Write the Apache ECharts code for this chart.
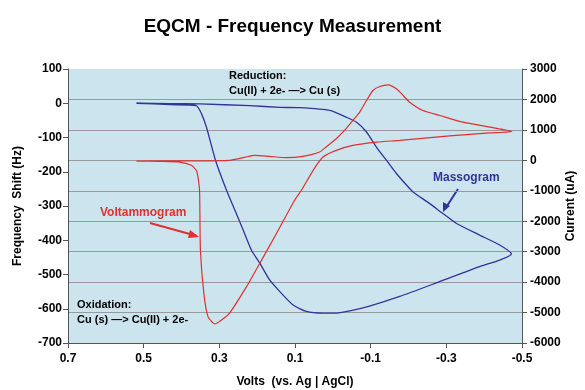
<!DOCTYPE html>
<html>
<head>
<meta charset="utf-8">
<script src="https://cdn.jsdelivr.net/npm/echarts@6/dist/echarts.min.js"></script>
<style>html,body{margin:0;padding:0;background:#fff}#c{width:585px;height:390px}</style>
</head>
<body>
<div id="c"></div>
<script>
// Massogram (frequency shift, Hz) vs volts
var massVolts = [0.519, 0.431, 0.352, 0.220, 0.140, 0.088, 0.008, -0.036, -0.062, -0.089, -0.115, -0.142, -0.168, -0.203, -0.212, -0.256, -0.291, -0.327, -0.388, -0.441, -0.472,
  -0.441, -0.388, -0.282, -0.177, -0.097, -0.045, -0.005, 0.027, 0.070, 0.105, 0.140, 0.167, 0.193, 0.215, 0.237, 0.259, 0.281, 0.310, 0.334, 0.347, 0.361, 0.431, 0.519];
var massShift = [0, -1, -2, -7, -12, -13, -21, -41, -55, -84, -128, -167, -205, -249, -259, -293, -322, -351, -385, -414, -440,
  -458, -477, -521, -564, -592, -606, -613, -613, -608, -589, -550, -516, -467, -429, -370, -312, -254, -167, -70, -31, -7, -4, 0];
// Voltammogram (current, uA) vs volts
var voltVolts = [0.519, 0.378, 0.273, 0.233, 0.206, 0.167, 0.123, 0.079, 0.035, 0.018, -0.009, -0.031, -0.053, -0.071, -0.089, -0.106, -0.124, -0.146, -0.168, -0.186, -0.203, -0.238, -0.283, -0.344, -0.415, -0.473,
  -0.415, -0.309, -0.177, -0.116, -0.053, -0.009, 0.026, 0.052, 0.083, 0.101, 0.149, 0.193, 0.228, 0.273, 0.294, 0.312, 0.330, 0.341, 0.350, 0.352, 0.355, 0.361, 0.374, 0.405, 0.458, 0.519];
var voltCurrent = [-23, -16, 0, 98, 164, 131, 88, 131, 272, 436, 711, 983, 1310, 1582, 1965, 2293, 2424, 2480, 2349, 2129, 1910, 1638, 1474, 1254, 1091, 950,
  900, 802, 655, 599, 491, 328, 108, -328, -983, -1310, -2401, -3384, -4150, -5021, -5241, -5372, -5133, -4356, -2948, -1091, -655, -328, -164, -56, -33, -23];

var voltTicks = [-0.5, -0.3, -0.1, 0.1, 0.3, 0.5, 0.7];

function pairs(xs, ys) { return xs.map(function (x, i) { return [x, ys[i]]; }); }

var chart = echarts.init(document.getElementById('c'));
var font = 'Liberation Sans, Arial, sans-serif';
var lbl = { color: '#000', fontWeight: 'bold', fontSize: 12, fontFamily: font };
var axLine = { show: true, onZero: false, lineStyle: { color: '#555', width: 1 } };

chart.setOption({
  animation: false,
  title: {
    text: 'EQCM - Frequency Measurement', left: 'center', top: 12,
    textStyle: { fontSize: 19, fontWeight: 'bold', color: '#000', fontFamily: font }
  },
  grid: { left: 68, right: 63, top: 69, bottom: 47, show: true, backgroundColor: '#cce4ee', borderWidth: 0, containLabel: false, outerBoundsMode: 'none' },
  xAxis: {
    type: 'value', inverse: true, min: voltTicks[0], max: voltTicks[voltTicks.length - 1], interval: 0.2,
    axisLine: axLine, axisTick: { show: true, length: 5, lineStyle: { color: '#555' } },
    splitLine: { show: false },
    axisLabel: Object.assign({ margin: 10, formatter: function (v) { return (+v).toFixed(1); } }, lbl),
    name: 'Volts  (vs. Ag | AgCl)', nameLocation: 'middle', nameGap: 33, nameMoveOverlap: false,
    nameTextStyle: lbl
  },
  yAxis: [{
    type: 'value', min: -700, max: 100, interval: 100, position: 'left',
    axisLine: axLine, axisTick: { show: true, length: 5, lineStyle: { color: '#555' } },
    splitLine: { show: false },
    axisLabel: Object.assign({ margin: 6, formatter: function (v) { return String(v); } }, lbl),
    name: 'Frequency  Shift (Hz)', nameLocation: 'middle', nameGap: 44, nameRotate: 90, nameMoveOverlap: false,
    nameTextStyle: lbl
  }, {
    type: 'value', min: -6000, max: 3000, interval: 1000, position: 'right', alignTicks: false,
    axisLine: axLine, axisTick: { show: true, length: 5, lineStyle: { color: '#555' } },
    splitLine: { show: true, showMinLine: false, showMaxLine: false, lineStyle: { color: '#999', width: 1 } },
    axisLabel: Object.assign({ margin: 8, formatter: function (v) { return String(v); } }, lbl),
    name: 'Current (uA)', nameLocation: 'middle', nameGap: 43, nameRotate: 90, nameMoveOverlap: false,
    nameTextStyle: lbl
  }],
  series: [{
    name: 'Massogram', type: 'line', yAxisIndex: 0, showSymbol: false, smooth: 0.2,
    lineStyle: { color: '#33339a', width: 1.3 },
    data: pairs(massVolts, massShift)
  }, {
    name: 'Voltammogram', type: 'line', yAxisIndex: 1, showSymbol: false, smooth: 0.2,
    lineStyle: { color: '#e03030', width: 1.2 },
    data: pairs(voltVolts, voltCurrent)
  }],
  graphic: [
    { type: 'text', left: 229, top: 68, style: { text: 'Reduction:\nCu(II) + 2e- —> Cu (s)', fill: '#000', font: 'bold 11px ' + font, lineHeight: 15 } },
    { type: 'text', left: 77, top: 297, style: { text: 'Oxidation:\nCu (s) —> Cu(II) + 2e-', fill: '#000', font: 'bold 11px ' + font, lineHeight: 15 } },
    { type: 'text', left: 100, top: 207, style: { text: 'Voltammogram', fill: '#e03030', font: 'bold 12px ' + font } },
    { type: 'text', left: 433, top: 172, style: { text: 'Massogram', fill: '#33339a', font: 'bold 12px ' + font } },
    { type: 'line', shape: { x1: 150, y1: 223, x2: 197, y2: 236 }, style: { stroke: '#e03030', lineWidth: 2 } },
    { type: 'polygon', shape: { points: [[199, 237], [190, 230], [188, 238]] }, style: { fill: '#e03030' } },
    { type: 'line', shape: { x1: 458, y1: 189, x2: 445, y2: 209 }, style: { stroke: '#33339a', lineWidth: 2 } },
    { type: 'polygon', shape: { points: [[443, 212], [443, 202], [450, 206]] }, style: { fill: '#33339a' } }
  ]
});
</script>
</body>
</html>
